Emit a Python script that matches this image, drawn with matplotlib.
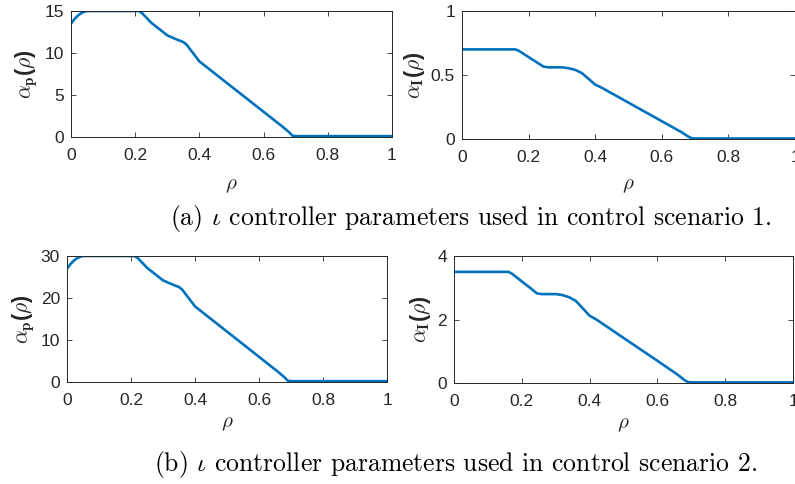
import matplotlib
matplotlib.use("Agg")
import matplotlib.pyplot as plt

plt.rcParams['mathtext.fontset'] = 'cm'
plt.rcParams['font.family'] = ['Liberation Sans', 'DejaVu Sans']

# ---- data ----
rho_p1 = [0.0, 0.01, 0.02, 0.03, 0.04, 0.05, 0.21, 0.22, 0.25, 0.28, 0.30, 0.33, 0.35, 0.36, 0.38, 0.40, 0.42, 0.50, 0.60, 0.66, 0.68, 0.69, 0.70, 1.0]
alpha_p1 = [13.5, 14.0, 14.4, 14.7, 14.9, 15.0, 15.0, 14.8, 13.6, 12.7, 12.1, 11.6, 11.3, 11.0, 10.0, 9.0, 8.4, 6.0, 3.0, 1.2, 0.55, 0.15, 0.1, 0.1]

rho_i1 = [0.0, 0.16, 0.17, 0.20, 0.23, 0.245, 0.26, 0.30, 0.32, 0.34, 0.36, 0.38, 0.40, 0.42, 0.50, 0.60, 0.66, 0.68, 0.69, 0.70, 1.0]
alpha_i1 = [0.70, 0.70, 0.69, 0.64, 0.59, 0.565, 0.56, 0.56, 0.553, 0.54, 0.515, 0.47, 0.425, 0.40, 0.284, 0.139, 0.052, 0.018, 0.006, 0.004, 0.004]

rho_p2 = [0.0, 0.01, 0.02, 0.03, 0.04, 0.05, 0.21, 0.22, 0.25, 0.28, 0.30, 0.33, 0.35, 0.36, 0.38, 0.40, 0.42, 0.50, 0.60, 0.66, 0.68, 0.69, 0.70, 1.0]
alpha_p2 = [27.0, 28.0, 28.8, 29.4, 29.8, 30.0, 30.0, 29.6, 27.2, 25.4, 24.2, 23.2, 22.6, 22.0, 20.0, 18.0, 16.8, 12.0, 6.0, 2.4, 1.1, 0.3, 0.2, 0.2]

rho_i2 = [0.0, 0.16, 0.17, 0.20, 0.23, 0.245, 0.26, 0.30, 0.32, 0.34, 0.36, 0.38, 0.40, 0.42, 0.50, 0.60, 0.66, 0.68, 0.69, 0.70, 1.0]
alpha_i2 = [3.50, 3.50, 3.45, 3.20, 2.95, 2.82, 2.80, 2.80, 2.77, 2.70, 2.58, 2.35, 2.12, 2.00, 1.42, 0.70, 0.26, 0.09, 0.03, 0.02, 0.02]

xticks = [0, 0.2, 0.4, 0.6, 0.8, 1]
xticklabels = ['0', '0.2', '0.4', '0.6', '0.8', '1']
yticks_p1 = [0, 5, 10, 15]
yticks_i1 = [0, 0.5, 1]
yticklabels_i1 = ['0', '0.5', '1']
yticks_p2 = [0, 10, 20, 30]
yticks_i2 = [0, 2, 4]

captions = ["(a) $\\iota$ controller parameters used in control scenario 1.",
            "(b) $\\iota$ controller parameters used in control scenario 2."]

W, H = 795, 484
fig = plt.figure(figsize=(W / 100, H / 100), dpi=100)
fig.patch.set_facecolor('white')

GRAY = '#262626'
BLUE = '#0072BD'


def box(l, r, t, b):
    return [l / W, 1 - b / H, (r - l) / W, (b - t) / H]


def make_ax(rect, x, y, yt, ytl, ylim, ylabel, xlpad):
    ax = fig.add_axes(rect)
    ax.plot(x, y, color=BLUE, lw=1.9, solid_joinstyle='round')
    ax.set_xlim(0, 1)
    ax.set_ylim(*ylim)
    ax.set_xticks(xticks)
    ax.set_xticklabels(xticklabels)
    ax.set_yticks(yt)
    ax.set_yticklabels(ytl if ytl is not None else [str(v) for v in yt])
    ax.tick_params(direction='in', top=True, right=True, length=3.5,
                   width=0.6, colors=GRAY, labelsize=12.5, pad=5)
    ax.tick_params(axis='x', pad=8)
    for s in ax.spines.values():
        s.set_color(GRAY)
        s.set_linewidth(0.7)
    ax.set_xlabel(r'$\rho$', fontsize=15, color=GRAY, labelpad=xlpad)
    ax.set_ylabel(ylabel, fontsize=15.5, color=GRAY, fontweight='bold', labelpad=3)
    return ax


make_ax(box(71, 392, 11, 137), rho_p1, alpha_p1, yticks_p1, None, (0, 15),
        r'$\alpha_{\mathbf{p}}$($\rho$)', 9)
make_ax(box(462, 795, 11, 139), rho_i1, alpha_i1, yticks_i1, yticklabels_i1, (0, 1),
        r'$\alpha_{\mathbf{I}}$($\rho$)', 8)
make_ax(box(67, 387, 256, 382), rho_p2, alpha_p2, yticks_p2, None, (0, 30),
        r'$\alpha_{\mathbf{p}}$($\rho$)', 4)
make_ax(box(454, 793, 256, 383), rho_i2, alpha_i2, yticks_i2, None, (0, 4),
        r'$\alpha_{\mathbf{I}}$($\rho$)', 4)

fig.text(471 / W, 1 - 218 / H, captions[0], ha='center', va='center',
         fontsize=18.5, family='cmr10', color='black')
fig.text(456 / W, 1 - 465 / H, captions[1], ha='center', va='center',
         fontsize=18.5, family='cmr10', color='black')

fig.savefig('out.png', dpi=100, facecolor='white')
